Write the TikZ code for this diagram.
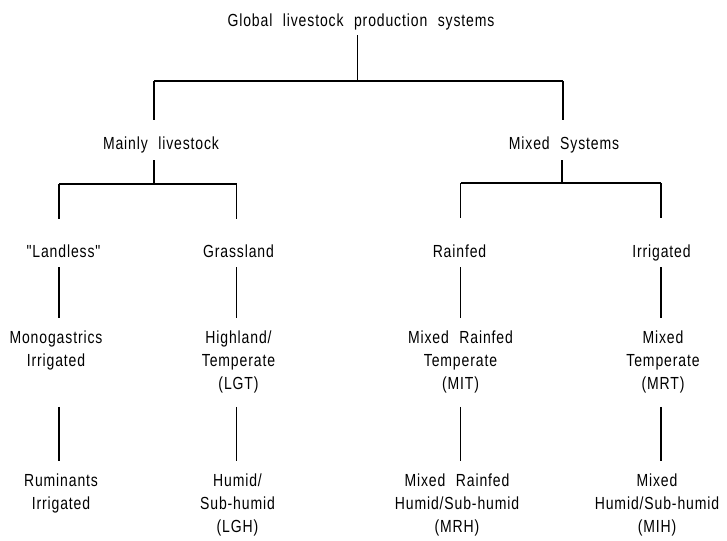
\documentclass[tikz,border=0pt]{standalone}
\usepackage{fontspec}
\setmainfont{Liberation Sans}[Ligatures=TeXOff, FakeStretch=0.8, LetterSpace=5, WordSpace=2.2]
\begin{document}
\begin{tikzpicture}[x=1pt, y=-1pt,
  lbl/.style={font=\fontsize{17.5}{23}\selectfont, align=center, inner sep=0pt,
              anchor=north, execute at begin node=\strut, execute at end node=\strut},
  link/.style={line width=1.4pt}]
  \fill[white] (0,0) rectangle (727,540);
  \useasboundingbox (0,0) rectangle (727,540);

  % level 0
  \node[lbl] (title) at (361, 9.9) {Global livestock production systems};
  % level 1
  \node[lbl] (ml) at (161, 132.9) {Mainly livestock};
  \node[lbl] (ms) at (564, 132.9) {Mixed Systems};
  % level 2
  \node[lbl] (land)  at (63.5, 240.9)  {"Landless"};
  \node[lbl] (grass) at (238.5, 240.9) {Grassland};
  \node[lbl] (rain)  at (459.5, 240.9) {Rainfed};
  \node[lbl] (irr)   at (661.5, 240.9) {Irrigated};
  % level 3
  \node[lbl] (mono) at (56, 330.9)    {Monogastrics\\Irrigated};
  \node[lbl] (lgt)  at (238.5, 330.9) {Highland/\\Temperate\\(LGT)};
  \node[lbl] (mit)  at (460.5, 330.9) {Mixed Rainfed\\Temperate\\(MIT)};
  \node[lbl] (mrt)  at (663, 330.9)   {Mixed\\Temperate\\(MRT)};
  % level 4
  \node[lbl] (rum) at (61, 473.9)    {Ruminants\\Irrigated};
  \node[lbl] (lgh) at (237.5, 473.9) {Humid/\\Sub-humid\\(LGH)};
  \node[lbl] (mrh) at (457, 473.9)   {Mixed Rainfed\\Humid/Sub-humid\\(MRH)};
  \node[lbl] (mih) at (657, 473.9)   {Mixed\\Humid/Sub-humid\\(MIH)};

  % junction bars
  \coordinate (j0)  at (357.5, 81);
  \coordinate (j0l) at (154, 81);
  \coordinate (j0r) at (563, 81);
  \coordinate (j1)  at (154, 184);
  \coordinate (j1l) at (59, 184);
  \coordinate (j1r) at (236.5, 184);
  \coordinate (j2)  at (562, 183);
  \coordinate (j2l) at (460.5, 183);
  \coordinate (j2r) at (661, 183);

  % top split
  \draw[link, shorten <=2pt] (title.south -| j0) -- (j0);
  \draw[link] (j0l) -- (j0r);
  \draw[link, shorten >=12.9pt] (j0l) -- (ml.north -| j0l);
  \draw[link, shorten >=12.9pt] (j0r) -- (ms.north -| j0r);

  % livestock split
  \draw[link, shorten <=4pt] (ml.south -| j1) -- (j1);
  \draw[link] (j1l) -- (j1r);
  \draw[link, shorten >=21.9pt] (j1l) -- (land.north -| j1l);
  \draw[link, shorten >=21.9pt] (j1r) -- (grass.north -| j1r);

  % mixed split
  \draw[link, shorten <=4pt] (ms.south -| j2) -- (j2);
  \draw[link] (j2l) -- (j2r);
  \draw[link, shorten >=22.9pt] (j2l) -- (rain.north -| j2l);
  \draw[link, shorten >=22.9pt] (j2r) -- (irr.north -| j2r);

  % second level to third level
  \draw[link, shorten <=3pt, shorten >=12.9pt] (land.south -| j1l)  -- (mono.north -| j1l);
  \draw[link, shorten <=3pt, shorten >=12.9pt] (grass.south -| j1r) -- (lgt.north -| j1r);
  \draw[link, shorten <=3pt, shorten >=12.9pt] (rain.south -| j2l)  -- (mit.north -| j2l);
  \draw[link, shorten <=3pt, shorten >=12.9pt] (irr.south -| j2r)   -- (mrt.north -| j2r);

  % third level to fourth level
  \draw[link, shorten <=33.1pt, shorten >=12.9pt] (mono.south -| j1l) -- (rum.north -| j1l);
  \draw[link, shorten <=10.1pt, shorten >=12.9pt] (lgt.south -| j1r)  -- (lgh.north -| j1r);
  \draw[link, shorten <=10.1pt, shorten >=12.9pt] (mit.south -| j2l)  -- (mrh.north -| j2l);
  \draw[link, shorten <=10.1pt, shorten >=12.9pt] (mrt.south -| j2r)  -- (mih.north -| j2r);
\end{tikzpicture}
\end{document}
